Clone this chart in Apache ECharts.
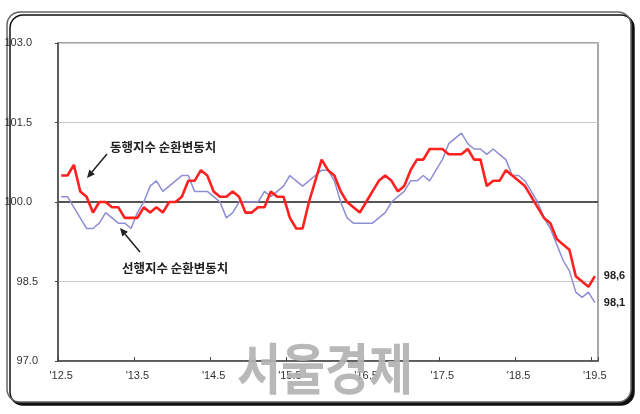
<!DOCTYPE html>
<html>
<head>
<meta charset="utf-8">
<script src="https://cdn.jsdelivr.net/npm/echarts@6/dist/echarts.min.js"></script>
<style>
html,body{margin:0;padding:0;background:#fff;}
#chart{width:640px;height:414px;}
</style>
</head>
<body>
<div id="chart"></div>
<script>
// Monthly categories from 2012.5 to 2019.5
var startYear = 12, startMonth = 5, monthCount = 85;
var categories = [];
for (var k = 0; k < monthCount; k++) {
  var m = startMonth + k;
  var yy = startYear + Math.floor((m - 1) / 12);
  var mm = ((m - 1) % 12) + 1;
  categories.push("'" + yy + "." + mm);
}
var tickLabels = ["'12.5", "'13.5", "'14.5", "'15.5", "'16.5", "'17.5", "'18.5", "'19.5"];
var yTicks = [97.0, 98.5, 100.0, 101.5, 103.0];

// 동행지수 순환변동치 (coincident index cyclical component)
var coincident = [
  100.5,100.5,100.7,100.2,100.1,99.8,100.0,100.0,99.9,99.9,
  99.7,99.7,99.7,99.9,99.8,99.9,99.8,100.0,100.0,100.1,
  100.4,100.4,100.6,100.5,100.2,100.1,100.1,100.2,100.1,99.8,
  99.8,99.9,99.9,100.2,100.1,100.1,99.7,99.5,99.5,100.0,
  100.4,100.8,100.6,100.5,100.2,100.0,99.9,99.8,100.0,100.2,
  100.4,100.5,100.4,100.2,100.3,100.6,100.8,100.8,101.0,101.0,
  101.0,100.9,100.9,100.9,101.0,100.8,100.8,100.3,100.4,100.4,
  100.6,100.5,100.4,100.3,100.1,99.9,99.7,99.6,99.3,99.2,
  99.1,98.6,98.5,98.4,98.6
];
// 선행지수 순환변동치 (leading index cyclical component)
var leading = [
  100.1,100.1,99.9,99.7,99.5,99.5,99.6,99.8,99.7,99.6,
  99.6,99.5,99.8,100.0,100.3,100.4,100.2,100.3,100.4,100.5,
  100.5,100.2,100.2,100.2,100.1,100.0,99.7,99.8,100.0,100.0,
  100.0,100.0,100.2,100.1,100.2,100.3,100.5,100.4,100.3,100.4,
  100.5,100.6,100.6,100.4,100.0,99.7,99.6,99.6,99.6,99.6,
  99.7,99.8,100.0,100.1,100.2,100.4,100.4,100.5,100.4,100.6,
  100.8,101.1,101.2,101.3,101.1,101.0,101.0,100.9,101.0,100.9,
  100.8,100.5,100.5,100.4,100.2,100.0,99.7,99.5,99.2,98.9,
  98.7,98.3,98.2,98.3,98.1
];
var baseLine = 100.0;

var labelFont = 'Liberation Sans, Arial, sans-serif';
var krFont = '"Noto Sans CJK KR", sans-serif';

function arrow(x1, y1, x2, y2) {
  var dx = x2 - x1, dy = y2 - y1, L = Math.sqrt(dx*dx + dy*dy);
  var ux = dx / L, uy = dy / L, hl = 8, hw = 3.6;
  var bx = x2 - ux*hl, by = y2 - uy*hl;
  return [
    {type:'line', z:50, shape:{x1:x1, y1:y1, x2:bx, y2:by}, style:{stroke:'#222', lineWidth:1.5}},
    {type:'polygon', z:50, shape:{points:[[x2,y2],[bx - uy*hw, by + ux*hw],[bx + uy*hw, by - ux*hw]]}, style:{fill:'#222'}}
  ];
}

var chart = echarts.init(document.getElementById('chart'), null, {renderer:'canvas'});
var option = {
  animation: false,
  backgroundColor: '#ffffff',
  grid: {left:58, top:43, right:42, bottom:53, show:true, borderColor:'#8a8a8a', borderWidth:1.5, backgroundColor:'transparent'},
  xAxis: {
    type: 'category',
    data: categories,
    boundaryGap: true,
    axisLine: {show:true, lineStyle:{color:'#444', width:1.5}},
    axisTick: {show:true, interval:11, inside:true, length:4, lineStyle:{color:'#444', width:1}},
    axisLabel: {
      interval: 11, margin: 9, color:'#333', fontSize:11, fontFamily:labelFont,
      formatter: function (v, idx) { return tickLabels[Math.round(idx / 12)] || v; }
    },
    splitLine: {show:false}
  },
  yAxis: {
    type: 'value',
    min: yTicks[0], max: yTicks[yTicks.length - 1], interval: 1.5,
    axisLine: {show:true, lineStyle:{color:'#444', width:1.5}},
    axisTick: {show:true, length:3, lineStyle:{color:'#444'}},
    axisLabel: {
      margin: 20, color:'#333', fontSize:11, fontFamily:labelFont, align:'right',
      formatter: function (v) {
        var s = v.toFixed(1);
        return s.length > 4 ? '{w|' + s + '}' : '{n|' + s + '}';
      },
      rich: {
        w: {padding:[0,6,0,0], color:'#333', fontSize:11, fontFamily:labelFont},
        n: {color:'#333', fontSize:11, fontFamily:labelFont}
      }
    },
    splitLine: {show:true, lineStyle:{color:'#c8c8c8', width:1}}
  },
  series: [
    {
      name: '선행지수 순환변동치',
      type: 'line',
      data: leading,
      symbol: 'none',
      z: 3,
      lineStyle: {color:'#8e8ed4', width:1.5},
      endLabel: {
        show: true, distance: 9, color:'#222', fontSize:11, fontWeight:'bold', fontFamily:labelFont,
        formatter: function (p) { return p.value.toFixed(1).replace('.', ','); }
      },
      markLine: {
        silent: true, symbol: ['none','none'], z: 2,
        label: {show:false},
        lineStyle: {color:'#555', width:2, type:'solid'},
        data: [{yAxis: baseLine}]
      }
    },
    {
      name: '동행지수 순환변동치',
      type: 'line',
      data: coincident,
      symbol: 'none',
      z: 4,
      lineStyle: {color:'#ff2020', width:2.6},
      endLabel: {
        show: true, distance: 9, color:'#222', fontSize:11, fontWeight:'bold', fontFamily:labelFont,
        formatter: function (p) { return p.value.toFixed(1).replace('.', ','); }
      }
    }
  ],
  graphic: [
    {type:'rect', z:-100, silent:true, shape:{x:7, y:12, width:624, height:390, r:13},
     style:{fill:'#fff', stroke:'#666', lineWidth:1.5, shadowColor:'#111', shadowOffsetX:3, shadowOffsetY:3, shadowBlur:0}},
    {type:'text', z:50, style:{text:'동행지수 순환변동치', x:110, y:147, fill:'#222', font:'bold 12.5px ' + krFont, textVerticalAlign:'middle'}},
    {type:'text', z:50, style:{text:'선행지수 순환변동치', x:122, y:268, fill:'#222', font:'bold 12.5px ' + krFont, textVerticalAlign:'middle'}}
  ].concat(arrow(107, 154, 87, 178)).concat(arrow(140, 252, 120, 228)).concat([
    {type:'text', z:40, x:325, y:368, scaleX:0.87, silent:true,
     style:{text:'서울경제', x:0, y:0, fill:'#b2b2b2', opacity:0.92, font:'bold 55px ' + krFont, textAlign:'center', textVerticalAlign:'middle'}}
  ])
};
chart.setOption(option);
</script>
</body>
</html>
